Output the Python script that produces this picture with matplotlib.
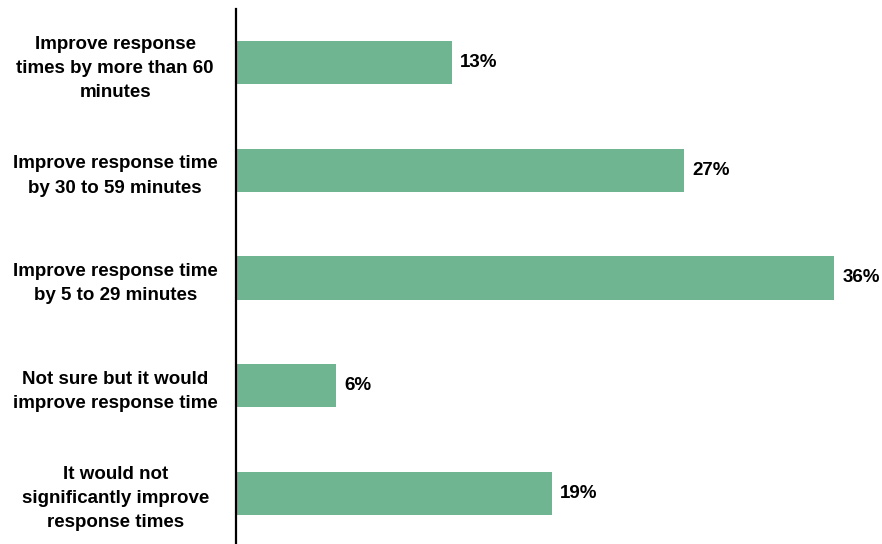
import matplotlib.pyplot as plt

plt.rcParams['font.family'] = ['Liberation Sans', 'DejaVu Sans']

categories = [
    'Improve response\ntimes by more than 60\nminutes',
    'Improve response time\nby 30 to 59 minutes',
    'Improve response time\nby 5 to 29 minutes',
    'Not sure but it would\nimprove response time',
    'It would not\nsignificantly improve\nresponse times',
]
values = [13, 27, 36, 6, 19]

fig = plt.figure(figsize=(8.82, 5.44), dpi=100)
ax = fig.add_axes([236 / 882, -3 / 544, 646 / 882, 538 / 544])

y = list(range(len(categories)))[::-1]
ax.barh(y, values, height=0.4, color='#70B591')

for yi, v in zip(y, values):
    ax.text(v + 0.5, yi, f'{v}%', va='center', ha='left',
            fontsize=13.5, fontweight='bold', clip_on=False)

ax.set_xlim(0, 646 / 16.61)
ax.set_ylim(-0.5, len(categories) - 0.5)
ax.set_yticks(y)
ax.set_yticklabels(categories, fontsize=13.5, fontweight='bold',
                   ha='center', linespacing=1.55)
ax.tick_params(axis='y', length=0, pad=87)
ax.set_xticks([])

for s in ['top', 'right', 'bottom']:
    ax.spines[s].set_visible(False)
ax.spines['left'].set_linewidth(1.6)

fig.savefig('out.png', dpi=100)
